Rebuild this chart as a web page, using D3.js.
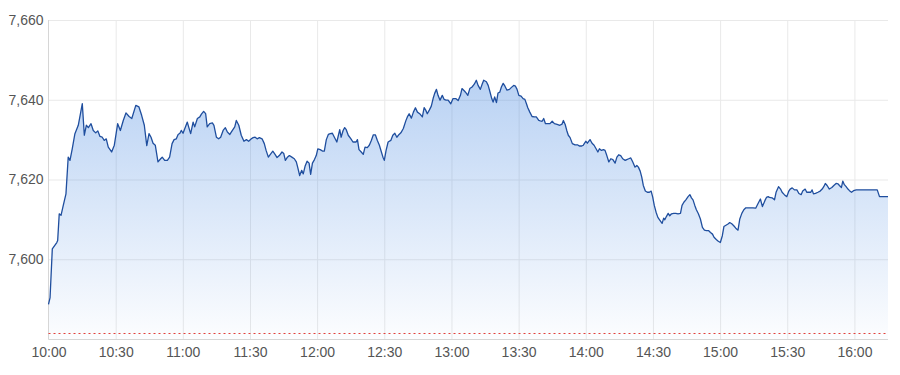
<!DOCTYPE html>
<html><head><meta charset="utf-8">
<script src="https://cdn.jsdelivr.net/npm/d3@7"></script>
<style>body{margin:0;background:#fff}svg{display:block}</style>
</head><body><svg id="c" width="900" height="375"></svg>
<script>
// minutes since 10:00 for each price point
const minutes=[
0,0.7,1.7,3.7,4.1,4.8,5.6,6.6,7.8,8.8,
9.6,10.6,11.8,13.3,15.1,16.0,16.9,17.8,19.0,20.0,
21.1,22.0,23.0,24.0,24.9,25.8,26.7,28.2,29.4,30.9,
32.1,33.4,34.6,36.0,37.2,39.0,40.4,41.6,42.8,43.9,
44.9,45.8,46.7,47.7,48.9,50.1,50.8,51.9,53.1,54.1,
55.2,56.1,57.1,57.9,58.7,59.3,60.1,60.9,62.0,62.6,
63.5,64.6,65.3,66.5,67.6,68.3,69.3,70.2,70.9,72.0,
73.2,73.9,75.0,76.0,76.9,78.0,79.0,79.9,81.0,82.0,
83.2,83.9,85.0,86.1,87.3,88.4,89.4,90.6,91.4,92.3,
93.2,94.2,95.4,96.4,97.2,98.2,99.1,100.2,101.2,102.1,
103.1,104.3,105.1,105.8,106.6,107.6,108.7,109.8,110.7,111.3,
112.2,113.1,113.8,114.6,115.5,116.4,117.1,117.9,118.8,119.6,
120.3,121.4,122.5,123.2,124.1,125.0,125.9,126.8,127.7,128.8,
129.5,130.1,130.7,131.6,132.3,133.0,133.9,135.1,136.0,137.4,
138.0,138.7,139.7,140.6,141.4,142.4,143.3,144.2,145.1,146.0,
146.9,147.8,148.7,149.4,150.0,150.8,151.7,152.9,153.8,154.7,
155.6,156.6,157.4,158.5,159.6,160.3,161.1,162.1,163.0,163.9,
164.8,165.8,167.0,167.8,168.5,169.2,170.1,171.0,171.8,172.5,
173.3,174.0,174.9,175.9,176.7,177.6,178.5,179.7,180.7,181.9,
183.0,184.0,184.7,185.8,186.7,187.3,188.2,189.2,190.2,191.1,
191.9,192.9,193.7,194.4,195.6,196.4,197.1,198.0,198.6,199.3,
200.1,200.8,201.6,202.3,203.1,203.9,204.8,205.9,206.8,207.8,
208.6,209.3,210.1,211.1,212.0,212.8,213.5,214.1,215.0,216.0,
217.0,217.9,219.0,219.7,220.5,221.2,222.0,223.0,224.0,225.0,
226.0,227.2,228.4,229.4,230.0,230.8,231.5,232.2,233.0,234.0,
235.2,236.3,237.1,238.2,238.9,240.0,240.7,241.9,242.8,243.7,
244.6,245.4,246.1,247.0,247.9,248.6,249.4,250.3,251.2,252.1,
253.1,253.9,254.7,255.6,256.5,257.6,258.3,259.2,260.1,261.0,
262.0,262.8,263.5,264.3,265.0,265.7,266.6,267.5,268.4,269.2,
269.9,270.6,271.4,272.2,273.2,274.1,274.8,275.3,276.0,276.8,
277.5,278.3,279.3,280.2,281.2,282.3,283.0,283.8,284.7,285.7,
286.5,287.2,287.9,288.7,289.4,290.3,291.2,292.1,293.0,293.9,
294.8,295.7,296.6,297.3,298.4,299.2,300.1,301.0,301.7,302.8,
303.7,304.3,305.2,306.1,307.0,308.0,308.8,309.7,310.6,311.5,
312.5,313.5,314.7,315.9,316.9,318.0,318.9,320.0,320.7,321.5,
322.0,323.2,324.3,325.0,326.1,327.0,327.7,328.7,329.8,330.7,
331.3,332.2,333.2,334.3,335.2,336.2,336.9,338.0,338.7,339.6,
340.5,341.1,341.7,342.6,343.7,344.7,345.6,346.3,347.0,347.8,
348.8,349.9,350.8,351.8,352.7,353.3,354.2,354.8,355.5,356.3,
357.1,357.8,358.7,359.6,360.8,370.2,371.2,375];

const prices=[
7588.7,7590.4,7602.6,7604.2,7604.7,7611.4,7611.0,7613.5,7616.4,7625.6,
7624.8,7627.7,7631.5,7633.6,7639.0,7631.1,7633.6,7633.0,7634.0,7632.3,
7631.7,7632.2,7630.8,7630.6,7629.8,7630.2,7628.1,7626.9,7628.6,7634.0,
7632.3,7634.8,7636.7,7635.8,7635.3,7638.6,7638.2,7636.1,7633.6,7628.5,
7631.5,7630.6,7629.1,7628.6,7624.4,7625.2,7625.6,7624.8,7624.8,7625.6,
7629.0,7630.0,7630.2,7631.3,7631.6,7632.3,7631.6,7632.8,7634.4,7633.2,
7631.5,7634.4,7633.2,7635.3,7635.7,7636.4,7637.1,7636.5,7633.2,7634.0,
7634.2,7633.6,7630.6,7630.2,7630.6,7632.3,7633.0,7631.9,7631.3,7632.2,
7633.2,7634.8,7633.6,7631.1,7629.6,7630.0,7629.6,7630.2,7630.5,7630.6,
7630.2,7630.5,7630.2,7629.0,7627.3,7625.6,7626.3,7627.1,7626.3,7625.5,
7626.0,7626.9,7626.5,7624.8,7625.5,7626.0,7625.6,7625.2,7624.4,7623.1,
7621.0,7622.3,7621.4,7623.3,7624.6,7624.1,7621.3,7624.1,7625.0,7626.0,
7627.7,7627.5,7627.1,7627.1,7630.0,7631.3,7631.5,7631.6,7630.6,7629.4,
7631.1,7632.5,7630.6,7632.3,7633.0,7632.5,7631.1,7630.2,7629.4,7629.4,
7630.0,7627.5,7626.9,7626.3,7628.1,7628.0,7628.6,7629.8,7631.2,7631.2,
7629.8,7628.6,7626.9,7625.6,7624.8,7627.3,7629.4,7629.8,7631.1,7631.6,
7630.6,7631.3,7631.7,7632.8,7634.7,7635.7,7636.5,7635.4,7636.9,7638.0,
7636.9,7636.5,7635.7,7638.0,7637.4,7636.5,7637.4,7638.4,7640.3,7641.6,
7642.6,7641.1,7639.9,7641.1,7640.1,7639.9,7639.9,7639.0,7640.3,7640.3,
7639.8,7641.1,7642.8,7642.2,7641.6,7641.1,7642.8,7643.2,7643.9,7644.9,
7643.6,7642.6,7643.9,7644.9,7644.5,7643.6,7642.2,7640.3,7639.4,7640.7,
7639.3,7641.7,7641.9,7643.2,7644.1,7643.4,7642.4,7642.6,7643.1,7643.6,
7643.4,7642.6,7641.1,7640.9,7640.3,7640.1,7639.0,7638.0,7636.9,7635.8,
7635.7,7635.7,7634.8,7634.7,7634.6,7635.3,7634.0,7634.0,7634.0,7634.6,
7634.0,7633.8,7633.6,7633.9,7634.8,7633.8,7632.3,7631.1,7630.5,7629.0,
7628.7,7628.7,7628.4,7628.4,7628.6,7629.6,7629.1,7630.0,7629.1,7628.6,
7627.7,7626.9,7627.7,7627.3,7627.5,7627.3,7626.0,7624.4,7625.2,7625.0,
7624.1,7625.6,7626.2,7626.0,7625.2,7624.8,7625.0,7625.2,7625.4,7624.4,
7623.1,7623.5,7623.1,7622.1,7620.6,7618.5,7617.1,7616.8,7616.8,7617.1,
7615.6,7613.5,7611.8,7610.5,7609.7,7609.0,7610.3,7609.9,7610.7,7611.5,
7610.9,7611.4,7611.5,7611.5,7611.4,7611.5,7613.5,7614.3,7614.9,7615.7,
7616.2,7615.4,7614.9,7613.5,7612.4,7611.4,7610.1,7608.0,7607.3,7607.2,
7607.2,7606.7,7606.3,7605.5,7604.9,7604.5,7604.2,7605.9,7608.2,7608.6,
7608.9,7609.2,7608.9,7608.4,7607.8,7607.3,7610.1,7611.5,7612.4,7612.9,
7612.9,7612.9,7612.9,7612.8,7613.9,7615.1,7613.2,7614.7,7615.5,7615.7,
7615.5,7615.4,7614.9,7616.8,7618.2,7617.6,7616.8,7616.2,7615.7,7617.1,
7617.6,7617.9,7617.4,7617.4,7616.5,7616.2,7617.1,7617.6,7616.8,7616.8,
7616.8,7617.4,7616.4,7616.5,7616.8,7617.1,7617.6,7618.2,7619.0,7618.5,
7617.6,7618.0,7618.5,7619.0,7618.9,7618.5,7618.0,7619.6,7618.7,7618.2,
7617.6,7617.2,7616.8,7617.2,7617.4,7617.4,7615.7,7615.7];

const timeLabels=["10:00","10:30","11:00","11:30","12:00","12:30","13:00","13:30","14:00","14:30","15:00","15:30","16:00"];
const sessionRange=["10:00","16:15"];
const yTicks=[7600,7620,7640,7660];
const yDomain=[7580,7660];
const prevClose=7581.5;

const parse=d3.timeParse("%H:%M");
const t0=parse(sessionRange[0]);
const data=minutes.map((m,i)=>({t:new Date(+t0+m*60000),v:prices[i]}));

const svg=d3.select("#c");
const L=48.5,R=888,T=20,B=339;
const x=d3.scaleTime().domain(sessionRange.map(parse)).range([L,R]);
const y=d3.scaleLinear().domain(yDomain).range([B,T]);
const font="'Liberation Sans', Arial, sans-serif";

// gradient
const defs=svg.append("defs");
const g=defs.append("linearGradient").attr("id","fillG")
  .attr("gradientUnits","userSpaceOnUse").attr("x1",0).attr("x2",0).attr("y1",T).attr("y2",B);
g.append("stop").attr("offset","0%").attr("stop-color","rgb(66,133,224)").attr("stop-opacity",0.45);
g.append("stop").attr("offset","100%").attr("stop-color","rgb(66,133,224)").attr("stop-opacity",0.015);

// gridlines
const gy=svg.append("g").attr("transform",`translate(${L},0)`)
  .call(d3.axisLeft(y).tickValues(yTicks).tickSize(-(R-L)).tickFormat(""));
gy.select(".domain").remove();
gy.selectAll("line").attr("stroke","#e9e9e9");

const tickDates=timeLabels.map(parse);
const gx=svg.append("g").attr("transform",`translate(0,${B})`)
  .call(d3.axisBottom(x).tickValues(tickDates.slice(1)).tickSize(-(B-T)).tickFormat(""));
gx.select(".domain").remove();
gx.selectAll("line").attr("stroke","#e9e9e9");

// area + line
svg.append("path").datum(data)
  .attr("d",d3.area().x(d=>x(d.t)).y0(B).y1(d=>y(d.v)))
  .attr("fill","url(#fillG)");

// frame lines
svg.append("line").attr("x1",L).attr("x2",L).attr("y1",T).attr("y2",B+0.5).attr("stroke","#d6d6d6");
svg.append("line").attr("x1",L).attr("x2",R).attr("y1",B+0.5).attr("y2",B+0.5).attr("stroke","#d6d6d6");

// previous close dotted
svg.append("line").attr("x1",L).attr("x2",R).attr("y1",Math.round(y(prevClose))+0.5).attr("y2",Math.round(y(prevClose))+0.5)
  .attr("stroke","#e2413b").attr("stroke-width",1).attr("stroke-dasharray","2,3");

svg.append("path").datum(data)
  .attr("d",d3.line().x(d=>x(d.t)).y(d=>y(d.v)))
  .attr("fill","none").attr("stroke","#1f4e9e").attr("stroke-width",1.3).attr("stroke-linejoin","round");

// axis labels
const ay=svg.append("g").attr("transform",`translate(${L},0)`)
  .call(d3.axisLeft(y).tickValues(yTicks).tickSize(0).tickPadding(5).tickFormat(d3.format(",")));
ay.select(".domain").remove();
ay.selectAll("text").attr("fill","#555").style("font-family",font).style("font-size","14px");

const ax=svg.append("g").attr("transform",`translate(0,${B})`)
  .call(d3.axisBottom(x).tickValues(tickDates).tickSize(0).tickPadding(8).tickFormat(d3.timeFormat("%H:%M")));
ax.select(".domain").remove();
ax.selectAll("text").attr("fill","#555").style("font-family",font).style("font-size","14px");
</script></body></html>
